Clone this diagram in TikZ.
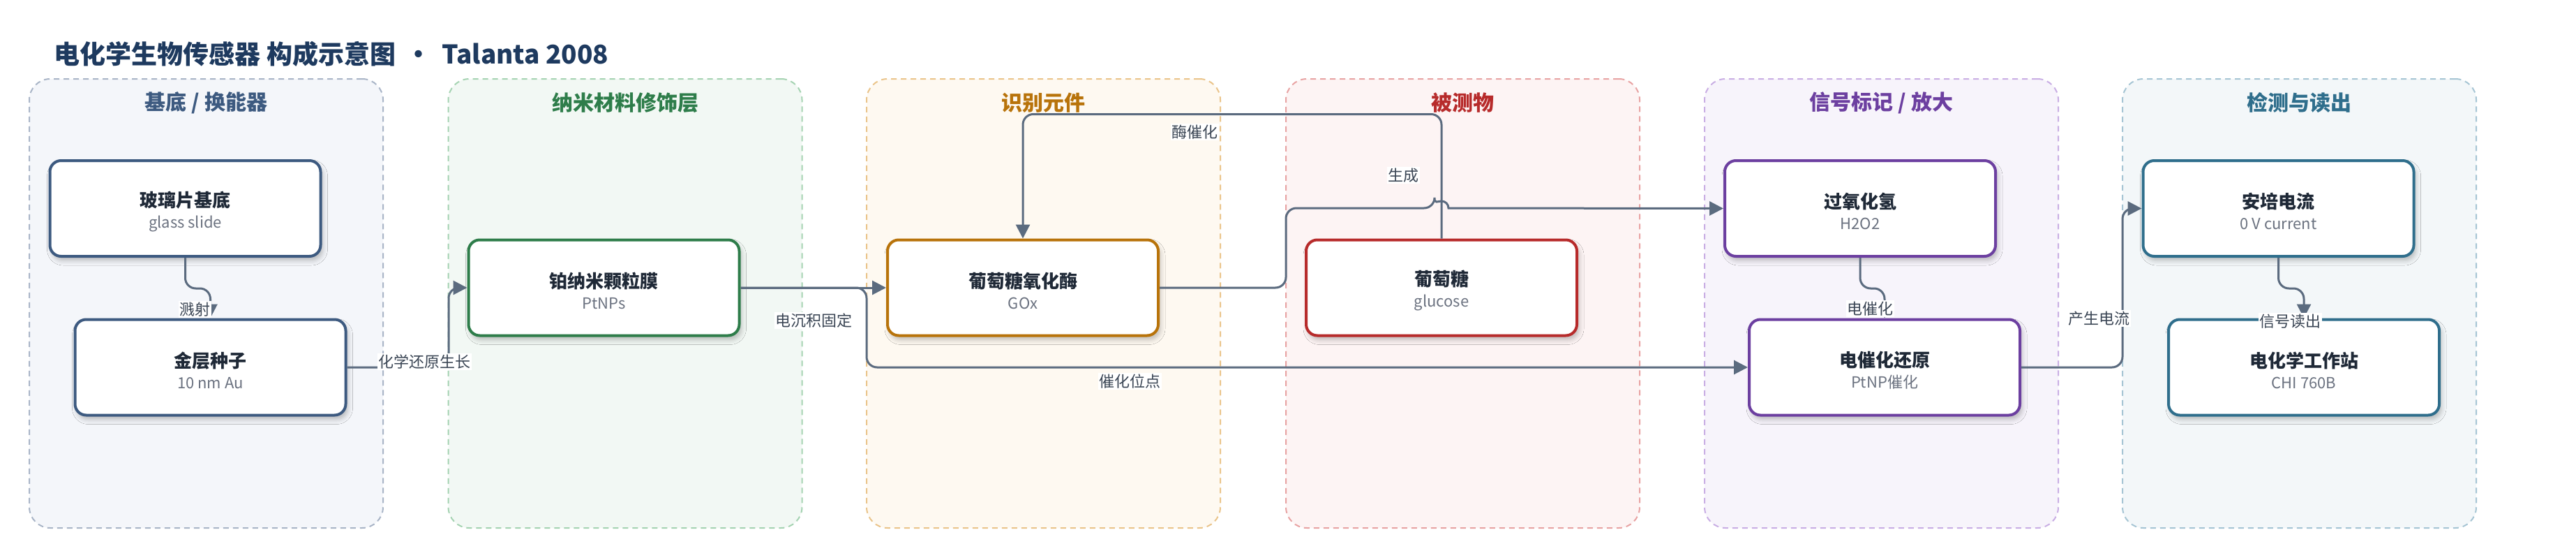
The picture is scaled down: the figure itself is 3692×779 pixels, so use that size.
\documentclass[tikz,border=0pt]{standalone}
\usepackage{fontspec}
\setmainfont{Noto Sans CJK SC}
\usetikzlibrary{arrows.meta,shadows.blur}
\definecolor{titlec}{HTML}{1E3A5F}
\definecolor{edgec}{HTML}{5B6B7F}
\definecolor{labc}{HTML}{3A4554}
\definecolor{subc}{HTML}{6B7280}
\definecolor{mainc}{HTML}{1F2937}
\definecolor{c0}{HTML}{3D5A80}\definecolor{f0}{HTML}{F4F6FA}\definecolor{l0}{HTML}{A9B5C7}
\definecolor{c1}{HTML}{2E7D4A}\definecolor{f1}{HTML}{F2F8F4}\definecolor{l1}{HTML}{A5D3B2}
\definecolor{c2}{HTML}{B8730A}\definecolor{f2}{HTML}{FEF9F1}\definecolor{l2}{HTML}{EAC48A}
\definecolor{c3}{HTML}{B72B2B}\definecolor{f3}{HTML}{FDF4F4}\definecolor{l3}{HTML}{E8A3A3}
\definecolor{c4}{HTML}{6C3FA0}\definecolor{f4}{HTML}{F7F4FB}\definecolor{l4}{HTML}{C9AEE4}
\definecolor{c5}{HTML}{2F6E8C}\definecolor{f5}{HTML}{F3F7F9}\definecolor{l5}{HTML}{A6C5D4}
\begin{document}
\begin{tikzpicture}[x=1pt, y=1pt,
  grp/.style={dashed, dash pattern=on 8pt off 6pt, line width=2pt, rounded corners=30pt,
    minimum width=507pt, minimum height=643pt, inner sep=0pt},
  grptitle/.style={font=\fontsize{30}{32}\selectfont\bfseries},
  box/.style={draw=#1, fill=white, line width=4pt, rounded corners=16pt,
    minimum width=388pt, minimum height=137pt, align=center, text=mainc,
    font=\fontsize{26}{30}\selectfont,
    blur shadow={shadow xshift=3pt, shadow yshift=-6pt, shadow blur radius=7pt, shadow opacity=25}},
  edge/.style={draw=edgec, line width=3pt, rounded corners=15pt, -{Triangle[length=20pt,width=20pt]}},
  lbl/.style={fill=white, inner sep=1.5pt, text=labc, font=\fontsize{22}{24}\selectfont}]
\useasboundingbox (0,0) rectangle (3692,-779);
\fill[white] (0,0) rectangle (3692,-779);

% title
\node[anchor=west, text=titlec, font=\fontsize{37}{40}\selectfont\bfseries] (title) at (74,-77)
  {电化学生物传感器 构成示意图 \,·\, Talanta 2008};

% groups
\node[grp, draw=l0, fill=f0] (G_0) at (295.5,-434.5) {};
\node[grp, draw=l1, fill=f1] (G_1) at (896,-434.5) {};
\node[grp, draw=l2, fill=f2] (G_2) at (1495.5,-434.5) {};
\node[grp, draw=l3, fill=f3] (G_3) at (2096.5,-434.5) {};
\node[grp, draw=l4, fill=f4] (G_4) at (2696.5,-434.5) {};
\node[grp, draw=l5, fill=f5] (G_5) at (3295.5,-434.5) {};
\node[grptitle, text=c0] (T_0) at (295.5,-147) {基底 / 换能器};
\node[grptitle, text=c1] (T_1) at (896,-147) {纳米材料修饰层};
\node[grptitle, text=c2] (T_2) at (1495.5,-147) {识别元件};
\node[grptitle, text=c3] (T_3) at (2096.5,-147) {被测物};
\node[grptitle, text=c4] (T_4) at (2696.5,-147) {信号标记 / 放大};
\node[grptitle, text=c5] (T_5) at (3295.5,-147) {检测与读出};

% boxes
\node[box=c0] (B_0_0) at (265.5,-298.5) {\rule{0pt}{31pt}\textbf{玻璃片基底}\\{\color{subc}\fontsize{22}{30}\selectfont glass slide}};
\node[box=c0] (B_0_1) at (301.5,-526) {\rule{0pt}{31pt}\textbf{金层种子}\\{\color{subc}\fontsize{22}{30}\selectfont 10 nm Au}};
\node[box=c1] (B_1_0) at (865.5,-412) {\rule{0pt}{31pt}\textbf{铂纳米颗粒膜}\\{\color{subc}\fontsize{22}{30}\selectfont PtNPs}};
\node[box=c2] (B_2_0) at (1466,-412) {\rule{0pt}{31pt}\textbf{葡萄糖氧化酶}\\{\color{subc}\fontsize{22}{30}\selectfont GOx}};
\node[box=c3] (B_3_0) at (2066,-412) {\rule{0pt}{31pt}\textbf{葡萄糖}\\{\color{subc}\fontsize{22}{30}\selectfont glucose}};
\node[box=c4] (B_4_0) at (2666,-298.5) {\rule{0pt}{31pt}\textbf{过氧化氢}\\{\color{subc}\fontsize{22}{30}\selectfont H2O2}};
\node[box=c4] (B_4_1) at (2701,-526) {\rule{0pt}{31pt}\textbf{电催化还原}\\{\color{subc}\fontsize{22}{30}\selectfont PtNP催化}};
\node[box=c5] (B_5_0) at (3265.5,-298.5) {\rule{0pt}{31pt}\textbf{安培电流}\\{\color{subc}\fontsize{22}{30}\selectfont 0 V current}};
\node[box=c5] (B_5_1) at (3302,-526) {\rule{0pt}{31pt}\textbf{电化学工作站}\\{\color{subc}\fontsize{22}{30}\selectfont CHI 760B}};

% connectors
\draw[edge] (B_0_0.south) -- ++(0,-44) -| (B_0_1.north);
\draw[edge] (B_0_1.east) -- (643,-526) |- (B_1_0.west);
\draw[edge] (B_1_0.east) -- (B_2_0.west);
\draw[edge] (B_1_0.east) -- (1242,-412) |- (B_4_1.west);
\draw[edge] (B_3_0.north) -- ++(0,178) -| (B_2_0.north);
\draw[edge] (B_2_0.east) -- (1843,-412) -- (1843,-298) -- (2056,-298) {[sharp corners] arc(180:0:10)} -- (B_4_0.west);
\draw[edge] (B_4_0.south) -- ++(0,-44) -| (B_4_1.north);
\draw[edge] (B_4_1.east) -- (3042,-526) |- (B_5_0.west);
\draw[edge] (B_5_0.south) -- ++(0,-44) -| (B_5_1.north);

% labels
\node[lbl] (L_0) at (279,-443) {溅射};
\node[lbl] (L_1) at (608,-518) {化学还原生长};
\node[lbl] (L_2) at (1166,-459) {电沉积固定};
\node[lbl] (L_3) at (1619,-546) {催化位点};
\node[lbl] (L_4) at (1712,-189) {酶催化};
\node[lbl] (L_5) at (2011,-251) {生成};
\node[lbl] (L_6) at (2680,-442) {电催化};
\node[lbl] (L_7) at (3008,-456) {产生电流};
\node[lbl] (L_8) at (3282,-460) {信号读出};
\end{tikzpicture}
\end{document}
